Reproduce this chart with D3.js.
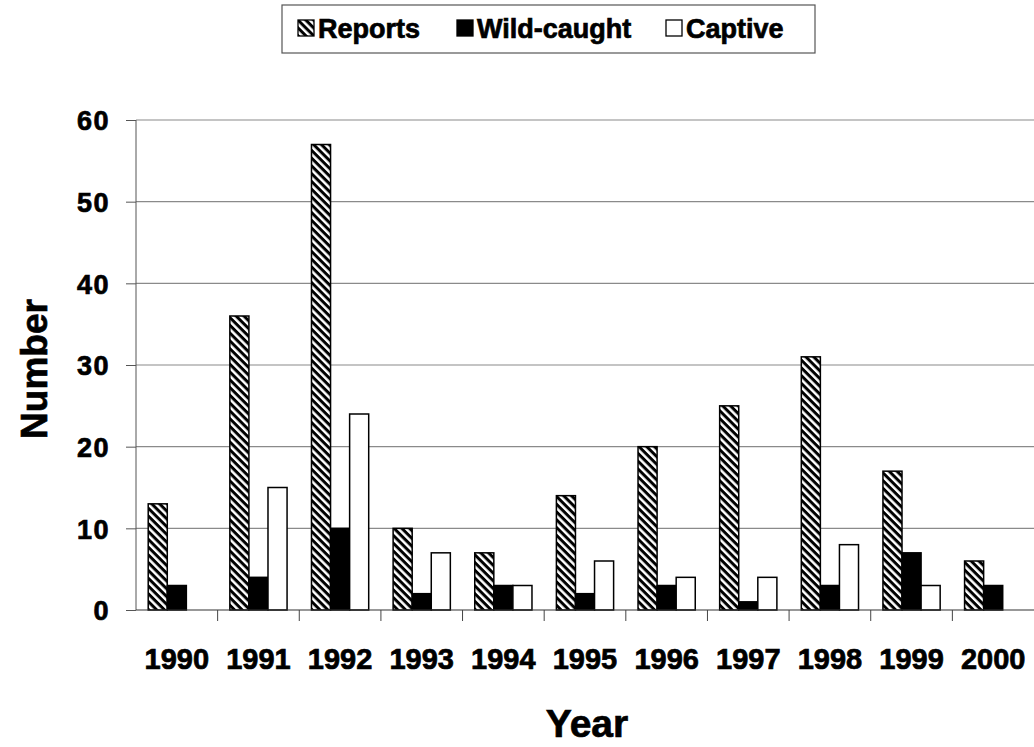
<!DOCTYPE html>
<html><head><meta charset="utf-8">
<script src="https://cdn.jsdelivr.net/npm/d3@7"></script>
<style>body{margin:0;background:#fff}svg{display:block;font-family:"Liberation Sans",Arial,sans-serif;font-weight:bold}
text{stroke:#000;stroke-width:0.7px;fill:#000}</style>
</head><body>
<script>
const years = ["1990","1991","1992","1993","1994","1995","1996","1997","1998","1999","2000"];
const seriesNames = ["Reports","Wild-caught","Captive"];
const reports = [13,36,57,10,7,14,20,25,31,17,6];
const wildCaught = [3,4,10,2,3,2,3,1,3,7,3];
const captive = [0,15,24,7,3,6,4,4,8,3,0];
const yTicks = [0,10,20,30,40,50,60];

const W=1034,H=747;
const svg=d3.select("body").append("svg").attr("width",W).attr("height",H);
const defs=svg.append("defs");
const pat=defs.append("pattern").attr("id","hatch").attr("patternUnits","userSpaceOnUse")
  .attr("width",5.5).attr("height",5.5).attr("patternTransform","rotate(45)");
pat.append("rect").attr("width",5.5).attr("height",5.5).attr("fill","#fff");
pat.append("rect").attr("width",5.5).attr("height",3).attr("fill","#000");

const fills={"Reports":"url(#hatch)","Wild-caught":"#000","Captive":"#fff"};
const data=[reports,wildCaught,captive];

const x=d3.scaleBand().domain(years).range([136,1034]).paddingInner(0).paddingOuter(0);
const y=d3.scaleLinear().domain([0,60]).range([610,120]);
const xs=d3.scaleBand().domain(seriesNames).range([0,x.bandwidth()]).paddingInner(0).paddingOuter(0.64);

// gridlines
svg.append("g").selectAll("line").data(yTicks.filter(d=>d>0)).join("line")
  .attr("x1",136).attr("x2",1034).attr("y1",d=>y(d)).attr("y2",d=>y(d))
  .attr("stroke","#8a8a8a").attr("stroke-width",1.2);

// bars
seriesNames.forEach((s,i)=>{
  svg.append("g").selectAll("rect").data(years.map((yr,j)=>({yr,v:data[i][j]})).filter(d=>d.v>0)).join("rect")
    .attr("x",d=>x(d.yr)+xs(s)).attr("width",xs.bandwidth())
    .attr("y",d=>y(d.v)).attr("height",d=>y(0)-y(d.v))
    .attr("fill",fills[s]).attr("stroke","#000").attr("stroke-width",1.5);
});

// y axis
const ya=svg.append("g").attr("transform","translate(136,0)")
  .call(d3.axisLeft(y).tickValues(yTicks).tickSize(10).tickPadding(16));
ya.select(".domain").attr("stroke","#555").attr("d","M0,120V610");
ya.selectAll(".tick line").attr("stroke","#555");
ya.selectAll("text").attr("font-size",27).attr("font-weight","bold").attr("fill","#000")
  .attr("font-family","Liberation Sans,Arial,sans-serif").attr("letter-spacing",1.5).attr("dy","0.36em");

// x axis
svg.append("line").attr("x1",136).attr("x2",1034).attr("y1",610).attr("y2",610).attr("stroke","#333").attr("stroke-width",1.2);
svg.append("g").selectAll("line").data(years.slice(1)).join("line")
  .attr("x1",d=>x(d)).attr("x2",d=>x(d)).attr("y1",610).attr("y2",621).attr("stroke","#444");
svg.append("g").selectAll("text").data(years).join("text")
  .attr("x",d=>x(d)+x.bandwidth()/2).attr("y",669).attr("text-anchor","middle")
  .attr("font-size",29).text(d=>d);

// axis titles
svg.append("text").attr("x",587).attr("y",737).attr("text-anchor","middle").attr("font-size",39).text("Year");
svg.append("text").attr("transform","translate(47,369) rotate(-90)").attr("text-anchor","middle").attr("font-size",37).text("Number");

// legend
const lg=svg.append("g");
lg.append("rect").attr("x",282).attr("y",5).attr("width",533).attr("height",48).attr("fill","#fff").attr("stroke","#555").attr("stroke-width",1.2);
const legItems=[{s:"Reports",x:298},{s:"Wild-caught",x:457},{s:"Captive",x:666}];
legItems.forEach(it=>{
  lg.append("rect").attr("x",it.x).attr("y",20).attr("width",16).attr("height",16).attr("fill",fills[it.s]).attr("stroke","#000").attr("stroke-width",1.3);
  lg.append("text").attr("x",it.x+20).attr("y",38).attr("font-size",27).text(it.s);
});
</script>
</body></html>
